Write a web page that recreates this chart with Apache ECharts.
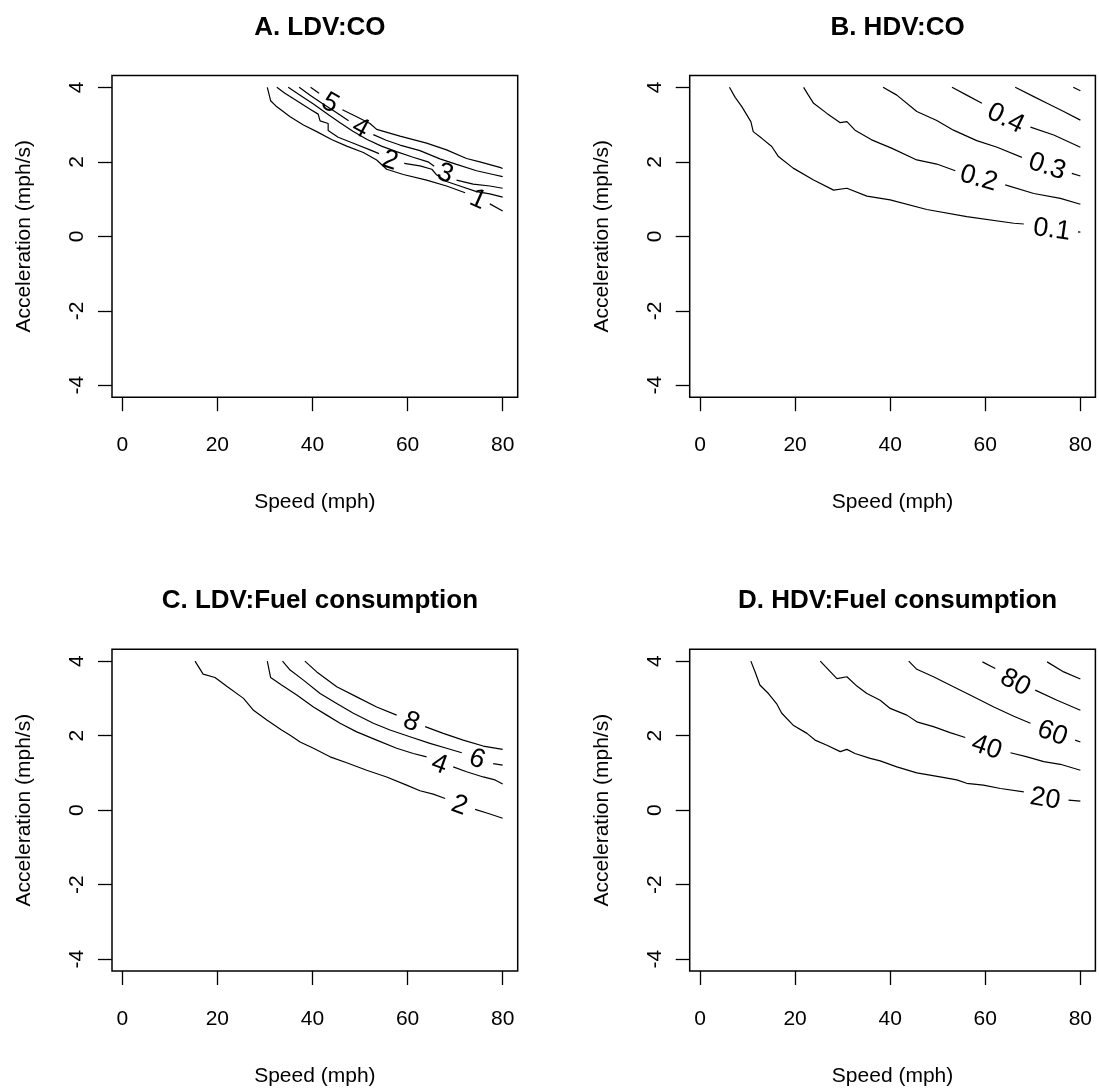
<!doctype html>
<html lang="en">
<head>
<meta charset="UTF-8" />
<title>Contours of CO and fuel consumption by speed and acceleration</title>
<script src="https://cdn.jsdelivr.net/npm/echarts@6/dist/echarts.min.js"></script>
<style>
  * { margin: 0; padding: 0; }
  html, body { background: #fff; }
  #chart { width: 1099px; height: 1091px; }
</style>
</head>
<body>
<div id="chart"></div>
<script>
// axis ticks and ranges (R pads the 1..80 / -4..4 data range by 4%)
const speedTicks = [0, 20, 40, 60, 80];
const accelTicks = [-4, -2, 0, 2, 4];
const speedLim = [-2.16, 83.16];
const accelLim = [-4.32, 4.32];

// contour lines: [speed, acceleration]
// "before"/"after" are the pieces either side of the in-line label at "at"
const ldvCO = [
  { level: '1', angle: -24, at: [74.8, 0.98],
    before: [[30.5, 4.0], [31.2, 3.64], [32.3, 3.5], [35.3, 3.21], [38.1, 2.99], [40.9, 2.81], [44.0, 2.6], [47.2, 2.42], [50.7, 2.25], [53.5, 2.05], [55.6, 1.8], [59.1, 1.66], [64.0, 1.51], [68.2, 1.35], [72.1, 1.17]],
    after: [[77.3, 0.87], [80, 0.68]] },
  { level: '2', angle: -18, at: [56.3, 2.03],
    before: [[32.5, 4.0], [34.2, 3.84], [36.7, 3.64], [39.5, 3.41], [41.2, 3.28], [41.6, 3.1], [43.3, 3.03], [43.3, 2.84], [45.4, 2.66], [48.6, 2.5], [52.1, 2.32], [54.0, 2.22]],
    after: [[59.3, 1.96], [62.6, 1.89], [65.1, 1.8], [66.1, 1.65], [68.2, 1.47], [71.0, 1.35], [74.5, 1.2], [77.3, 1.14], [80, 1.05]] },
  { level: '3', angle: -20, at: [67.9, 1.68],
    before: [[34.9, 4.0], [37.4, 3.79], [40.2, 3.55], [43.0, 3.3], [45.8, 3.05], [48.5, 2.82], [51.5, 2.6], [54.5, 2.42], [57.5, 2.28], [61.0, 2.13], [64.3, 2.0], [65.6, 1.88]],
    after: [[70.3, 1.51], [73.8, 1.4], [77.3, 1.35], [80, 1.29]] },
  { level: '4', angle: -28, at: [50.1, 2.9],
    before: [[37.2, 4.0], [39.5, 3.79], [42.0, 3.57], [44.7, 3.35], [47.6, 3.1]],
    after: [[52.8, 2.73], [55.5, 2.58], [58.4, 2.45], [62.6, 2.3], [66.8, 2.08], [70.3, 1.93], [74.5, 1.76], [78.0, 1.66], [80, 1.6]] },
  { level: '5', angle: -30, at: [43.7, 3.57],
    before: [[39.6, 4.0], [41.4, 3.84]],
    after: [[46.3, 3.4], [49.3, 3.21], [52.1, 3.03], [53.5, 2.87], [58.4, 2.69], [64.0, 2.5], [68.2, 2.32], [72.4, 2.09], [75.2, 2.0], [79.4, 1.85], [80, 1.82]] }
];

const hdvCO = [
  { level: '0.1', angle: -8, at: [74.0, 0.17],
    before: [[6.2, 4.0], [7.4, 3.73], [8.8, 3.48], [10.7, 3.08], [11.2, 2.81], [13.0, 2.63], [15.1, 2.41], [16.5, 2.14], [19.6, 1.83], [23.9, 1.51], [28.1, 1.24], [30.9, 1.29], [35.1, 1.08], [40.0, 0.98], [47.7, 0.72], [56.1, 0.53], [66.0, 0.35], [68.1, 0.33]],
    after: [[79.5, 0.12], [80, 0.11]] },
  { level: '0.2', angle: -16, at: [58.6, 1.55],
    before: [[21.8, 4.0], [22.8, 3.79], [23.9, 3.57], [26.7, 3.3], [29.5, 3.05], [30.9, 3.08], [32.6, 2.85], [36.1, 2.59], [40.4, 2.36], [45.6, 2.05], [49.8, 1.94], [53.7, 1.76]],
    after: [[64.2, 1.38], [70.2, 1.15], [75.8, 1.02], [80, 0.86]] },
  { level: '0.3', angle: -18, at: [73.0, 1.87],
    before: [[38.5, 4.0], [41.4, 3.79], [45.6, 3.35], [49.8, 3.11], [53.3, 2.85], [58.2, 2.57], [62.5, 2.39], [67.7, 2.12]],
    after: [[78.2, 1.69], [80, 1.62]] },
  { level: '0.4', angle: -26, at: [64.3, 3.16],
    before: [[53.0, 4.0], [56.1, 3.79], [59.3, 3.57]],
    after: [[69.5, 2.93], [74.4, 2.72], [80, 2.39]] },
  { level: '0.5', angle: 0, at: null,
    before: [[66.3, 4.0], [70.2, 3.75], [73.0, 3.57], [76.5, 3.35], [80, 3.12]], after: [] },
  { level: '0.6', angle: 0, at: null,
    before: [[78.5, 4.0], [80, 3.91]], after: [] }
];

const ldvFuel = [
  { level: '2', angle: -20, at: [70.9, 0.12],
    before: [[15.3, 4.0], [17.0, 3.65], [19.5, 3.56], [21.9, 3.33], [25.5, 3.0], [27.6, 2.68], [30.4, 2.42], [33.5, 2.15], [35.3, 2.01], [37.4, 1.83], [40.2, 1.66], [43.7, 1.43], [47.2, 1.27], [51.4, 1.07], [55.6, 0.89], [59.8, 0.67], [62.6, 0.52], [65.4, 0.43], [67.9, 0.31]],
    after: [[74.2, 0.02], [77.0, -0.09], [80, -0.22]] },
  { level: '4', angle: -20, at: [66.7, 1.22],
    before: [[30.5, 4.0], [31.2, 3.56], [33.5, 3.36], [36.7, 3.09], [40.2, 2.77], [43.0, 2.55], [45.8, 2.33], [49.3, 2.1], [53.5, 1.88], [57.7, 1.66], [61.2, 1.52], [64.0, 1.43]],
    after: [[69.6, 1.16], [72.4, 1.03], [75.9, 0.89], [78.4, 0.81], [80, 0.7]] },
  { level: '6', angle: -19, at: [74.6, 1.36],
    before: [[33.7, 4.0], [35.3, 3.76], [38.1, 3.49], [41.6, 3.13], [45.1, 2.86], [48.6, 2.6], [52.8, 2.33], [56.3, 2.15], [60.5, 1.97], [64.7, 1.79], [68.2, 1.66], [71.4, 1.54]],
    after: [[78.0, 1.25], [80, 1.21]] },
  { level: '8', angle: -22, at: [60.8, 2.36],
    before: [[38.4, 4.0], [40.9, 3.71], [45.1, 3.31], [49.3, 3.04], [53.5, 2.77], [57.7, 2.55]],
    after: [[63.7, 2.24], [67.5, 2.06], [71.7, 1.88], [75.9, 1.72], [80, 1.63]] }
];

const hdvFuel = [
  { level: '20', angle: -10, at: [72.6, 0.3],
    before: [[10.7, 4.0], [11.6, 3.71], [12.6, 3.36], [14.4, 3.13], [16.1, 2.86], [17.2, 2.6], [19.6, 2.28], [22.5, 2.06], [24.2, 1.88], [26.7, 1.74], [29.5, 1.57], [30.9, 1.63], [32.6, 1.52], [35.8, 1.39], [37.9, 1.32], [41.4, 1.16], [45.6, 1.0], [50.5, 0.89], [54.0, 0.81], [56.1, 0.72], [59.6, 0.67], [63.2, 0.58], [68.1, 0.49]],
    after: [[77.5, 0.27], [80, 0.24]] },
  { level: '40', angle: -19, at: [60.3, 1.68],
    before: [[25.3, 4.0], [28.8, 3.53], [30.9, 3.58], [33.0, 3.33], [35.1, 3.13], [37.9, 2.95], [40.0, 2.73], [43.5, 2.55], [45.6, 2.37], [49.1, 2.24], [52.6, 2.08], [55.8, 1.95]],
    after: [[65.3, 1.54], [68.8, 1.43], [72.3, 1.3], [75.8, 1.23], [80, 1.07]] },
  { level: '60', angle: -20, at: [74.1, 2.06],
    before: [[43.9, 4.0], [45.6, 3.78], [49.1, 3.58], [53.3, 3.31], [56.8, 3.09], [61.8, 2.77], [66.0, 2.52], [69.5, 2.33]],
    after: [[78.9, 1.88], [80, 1.83]] },
  { level: '80', angle: -28, at: [66.3, 3.42],
    before: [[59.4, 3.98], [62.1, 3.8]],
    after: [[70.5, 3.22], [75.1, 2.95], [80, 2.68]] },
  { level: '100', angle: 0, at: null,
    before: [[73.0, 3.98], [76.5, 3.71], [80, 3.52]], after: [] }
];

const panels = [
  { title: 'A. LDV:CO', lines: ldvCO, left: 112, top: 75.4 },
  { title: 'B. HDV:CO', lines: hdvCO, left: 689.7, top: 75.4 },
  { title: 'C. LDV:Fuel consumption', lines: ldvFuel, left: 112, top: 649.2 },
  { title: 'D. HDV:Fuel consumption', lines: hdvFuel, left: 689.7, top: 649.2 }
];

const font = '"Liberation Sans", Arial, Helvetica, sans-serif';
const gw = 405.7, gh = 321.8;
const grids = [], xAxes = [], yAxes = [], titles = [], series = [];

panels.forEach((p, i) => {
  grids.push({
    left: p.left, top: p.top, width: gw, height: gh,
    show: true, borderColor: '#000', borderWidth: 1.5, backgroundColor: 'transparent'
  });
  titles.push({
    text: p.title, left: p.left + gw / 2, top: p.top - 68, textAlign: 'center',
    textStyle: { fontFamily: font, fontSize: 26, fontWeight: 'bold', color: '#000', lineHeight: 30 }
  });
  xAxes.push({
    type: 'value', gridIndex: i, min: speedLim[0], max: speedLim[1],
    name: 'Speed (mph)', nameLocation: 'middle', nameGap: 95,
    nameTextStyle: { fontFamily: font, fontSize: 21, color: '#000' },
    axisLine: { show: false, onZero: false },
    axisTick: { show: true, customValues: speedTicks, length: 14, lineStyle: { color: '#000', width: 1.3 } },
    axisLabel: { customValues: speedTicks, margin: 38, fontFamily: font, fontSize: 21, color: '#000' },
    splitLine: { show: false }
  });
  yAxes.push({
    type: 'value', gridIndex: i, min: accelLim[0], max: accelLim[1],
    name: 'Acceleration (mph/s)', nameLocation: 'middle', nameGap: 77,
    nameTextStyle: { fontFamily: font, fontSize: 21, color: '#000' },
    axisLine: { show: false, onZero: false },
    axisTick: { show: true, customValues: accelTicks, length: 14, lineStyle: { color: '#000', width: 1.3 } },
    axisLabel: { customValues: accelTicks, rotate: 90, margin: 24, fontFamily: font, fontSize: 21, color: '#000' },
    splitLine: { show: false }
  });

  p.lines.forEach(c => {
    [c.before, c.after].forEach(seg => {
      if (!seg.length) return;
      series.push({
        type: 'line', xAxisIndex: i, yAxisIndex: i, data: seg,
        symbol: 'none', silent: true,
        lineStyle: { color: '#000', width: 1.2 }
      });
    });
  });

  series.push({
    type: 'scatter', xAxisIndex: i, yAxisIndex: i, symbolSize: 1, silent: true,
    itemStyle: { color: 'rgba(0,0,0,0)', opacity: 1 },
    label: {
      show: true, position: 'inside', formatter: '{b}', fontFamily: font, fontSize: 27,
      color: '#000', textBorderWidth: 0, opacity: 1
    },
    data: p.lines.filter(c => c.at).map(c => ({ name: c.level, value: c.at, label: { rotate: c.angle } }))
  });
});

const chart = echarts.init(document.getElementById('chart'));
chart.setOption({
  animation: false,
  backgroundColor: '#fff',
  title: titles,
  grid: grids,
  xAxis: xAxes,
  yAxis: yAxes,
  series: series
});
</script>
</body>
</html>
